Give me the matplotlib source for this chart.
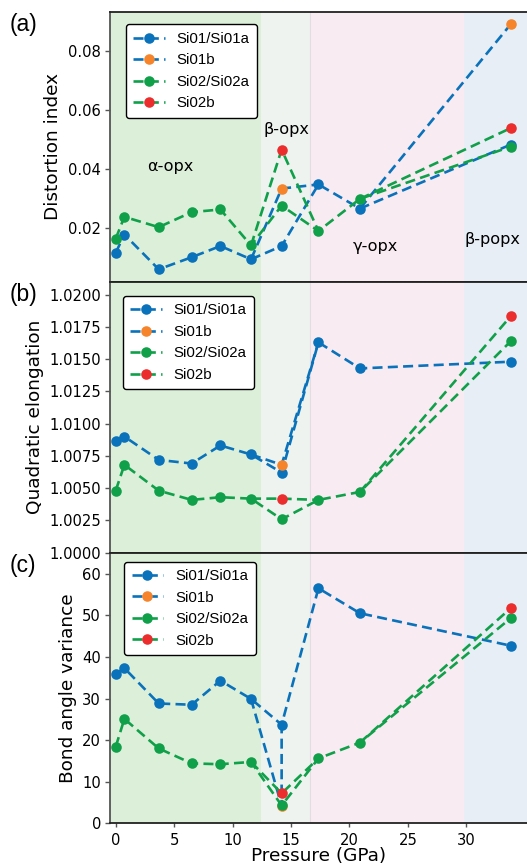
import numpy as np
import matplotlib
matplotlib.use("Agg")
import matplotlib.pyplot as plt
from matplotlib.lines import Line2D

# ---------------- data ----------------
pressure = [0.0, 0.74, 3.68, 6.5, 8.96, 11.58, 14.2, 17.35, 20.9, 33.8]
pressure_b = [14.2, 33.8]

di_si01 = [0.0115, 0.0177, 0.0059, 0.0100, 0.0138, 0.0093, 0.0138, 0.0347, 0.0265, 0.0482]
di_si01b = [0.0333, 0.0890]
di_si02 = [0.0163, 0.0237, 0.0202, 0.0253, 0.0262, 0.0140, 0.0275, 0.0189, 0.0298, 0.0475]
di_si02b = [0.0465, 0.0538]

qe_si01 = [1.00867, 1.00900, 1.00719, 1.00691, 1.00831, 1.00761, 1.00621, 1.01630, 1.01428, 1.01480]
qe_si01b = [1.00681, np.nan]
qe_si02 = [1.00481, 1.00681, 1.00481, 1.00409, 1.00430, 1.00419, 1.00259, 1.00409, 1.00471, 1.01638]
qe_si02b = [1.00419, 1.01832]

bav_si01 = [35.9, 37.3, 28.8, 28.5, 34.3, 29.9, 23.7, 56.5, 50.5, 42.7]
bav_si01b = [4.2, np.nan]
bav_si02 = [18.4, 25.1, 18.0, 14.4, 14.2, 14.75, 4.3, 15.6, 19.4, 49.3]
bav_si02b = [7.2, 51.7]

phase_names = ["α-opx", "β-opx", "γ-opx", "β-popx"]
phase_bounds = [12.45, 16.6, 29.85]

series_labels = ["Si01/Si01a", "Si01b", "Si02/Si02a", "Si02b"]
ylabels = ["Distortion index", "Quadratic elongation", "Bond angle variance"]
panel_tags = ["(a)", "(b)", "(c)"]

# ---------------- style ----------------
C_BLUE = "#0a72ba"
C_ORANGE = "#f5842a"
C_GREEN = "#10a04a"
C_RED = "#ec2d2d"
SPAN_COLORS = ["#dcefd9", "#eef3ef", "#f9ebf2", "#e8eef6"]
LW = 1.9
MS = 7.6

fig = plt.figure(figsize=(5.27, 8.67), dpi=100)
W, H = 527.0, 867.0
left = 110 / W
width = 1.0 - left
tops = [11.7, 281.7, 552.7]
bots = [281.7, 552.7, 823.3]

panels = [
    (di_si01, di_si01b, di_si02, di_si02b),
    (qe_si01, qe_si01b, qe_si02, qe_si02b),
    (bav_si01, bav_si01b, bav_si02, bav_si02b),
]
# where the "b" branch at 14.2 GPa rejoins the main line (index into pressure)
rejoin_si01 = [7, 7, 6]
rejoin_si02 = [7, 7, 7]

ylims = [(0.0017, 0.0933), (1.0, 1.0210), (0.0, 65.05)]
yticks = [[0.02, 0.04, 0.06, 0.08],
          list(np.arange(1.0, 1.02001, 0.0025)),
          [0, 10, 20, 30, 40, 50, 60]]
yfmt = ["{:.2f}", "{:.4f}", "{:.0f}"]
legend_anchor = [(0.038, 0.953), (0.030, 0.948), (0.034, 0.967)]

xlim = (-0.49, 35.2)
dash = (0, (3.8, 2.0))


def dline(ax, x, y, color, z):
    ax.plot(x, y, color=color, lw=LW, linestyle=dash, zorder=z)


def dots(ax, x, y, color, z):
    ax.plot(x, y, linestyle="none", marker="o", ms=MS, color=color,
            markeredgewidth=0, zorder=z)


axes = []
for i, (s1, s1b, s2, s2b) in enumerate(panels):
    b = 1 - bots[i] / H
    h = (bots[i] - tops[i]) / H
    ax = fig.add_axes([left, b, width, h])
    axes.append(ax)

    edges = [xlim[0]] + phase_bounds + [xlim[1]]
    for k in range(4):
        ax.axvspan(edges[k], edges[k + 1], color=SPAN_COLORS[k], lw=0, zorder=0)
    ax.axvline(phase_bounds[1], color="#e4dce0", lw=0.8, zorder=0.5)

    # Si01 main
    dline(ax, pressure, s1, C_BLUE, 2)
    dots(ax, pressure, s1, C_BLUE, 3)
    # Si01b branches
    if not np.isnan(s1b[0]):
        dline(ax, [pressure[5], pressure_b[0], pressure[rejoin_si01[i]]],
              [s1[5], s1b[0], s1[rejoin_si01[i]]], C_BLUE, 2)
    if not np.isnan(s1b[1]):
        dline(ax, [pressure[8], pressure_b[1]], [s1[8], s1b[1]], C_BLUE, 2)
    dots(ax, pressure_b, s1b, C_ORANGE, 3.1)
    # Si02 main
    dline(ax, pressure, s2, C_GREEN, 3.2)
    dots(ax, pressure, s2, C_GREEN, 3.3)
    # Si02b branches
    if not np.isnan(s2b[0]):
        dline(ax, [pressure[5], pressure_b[0], pressure[rejoin_si02[i]]],
              [s2[5], s2b[0], s2[rejoin_si02[i]]], C_GREEN, 3.2)
    if not np.isnan(s2b[1]):
        dline(ax, [pressure[8], pressure_b[1]], [s2[8], s2b[1]], C_GREEN, 3.2)
    dots(ax, pressure_b, s2b, C_RED, 3.4)

    ax.set_xlim(*xlim)
    ax.set_ylim(*ylims[i])
    ax.set_yticks(yticks[i])
    ax.set_yticklabels([yfmt[i].format(v) for v in yticks[i]], fontsize=10.6)
    ax.set_ylabel(ylabels[i], fontsize=13.3, labelpad=4)

    ax.spines["right"].set_visible(False)
    ax.spines["left"].set_color("#555555")
    ax.spines["left"].set_linewidth(1.3)
    ax.spines["top"].set_color("#222222")
    ax.spines["top"].set_linewidth(1.3)
    ax.spines["bottom"].set_color("#222222")
    ax.spines["bottom"].set_linewidth(1.3)
    ax.tick_params(axis="y", direction="out", length=3.5, width=1, color="#555555", pad=3)

    if i < 2:
        ax.tick_params(axis="x", bottom=False, labelbottom=False)
    else:
        ax.set_xticks([0, 5, 10, 15, 20, 25, 30])
        ax.tick_params(axis="x", direction="out", length=3, width=1, color="#555555",
                       labelsize=10.6, pad=4)
        ax.set_xlabel("Pressure (GPa)", fontsize=13.3, labelpad=-1)

    handles = [
        Line2D([], [], color=C_BLUE, lw=LW, linestyle=dash, marker="o", ms=MS,
               markerfacecolor=C_BLUE, markeredgewidth=0),
        Line2D([], [], color=C_BLUE, lw=LW, linestyle=dash, marker="o", ms=MS,
               markerfacecolor=C_ORANGE, markeredgewidth=0),
        Line2D([], [], color=C_GREEN, lw=LW, linestyle=dash, marker="o", ms=MS,
               markerfacecolor=C_GREEN, markeredgewidth=0),
        Line2D([], [], color=C_GREEN, lw=LW, linestyle=dash, marker="o", ms=MS,
               markerfacecolor=C_RED, markeredgewidth=0),
    ]
    leg = ax.legend(handles, series_labels, loc="upper left",
                    bbox_to_anchor=legend_anchor[i], borderaxespad=0,
                    prop={"family": "Liberation Sans", "size": 10.8},
                    frameon=True, fancybox=True, framealpha=1, edgecolor="black",
                    handlelength=2.1, labelspacing=0.5, borderpad=0.5,
                    handletextpad=0.8)
    leg.get_frame().set_linewidth(1.0)
    leg.set_zorder(10)

    fig.text(10 / W, 1 - (tops[i] + 13) / H, panel_tags[i], fontsize=16.5,
             family="Liberation Sans", ha="left", va="center")

# phase annotations in panel (a)
phase_x = [4.65, 14.58, 22.26, 32.24]
phase_y = [0.0408, 0.0535, 0.0136, 0.0160]
for name, px, py in zip(phase_names, phase_x, phase_y):
    axes[0].text(px, py, name, fontsize=11.6, ha="center", va="center", zorder=5)

fig.savefig("out.png", dpi=100)
